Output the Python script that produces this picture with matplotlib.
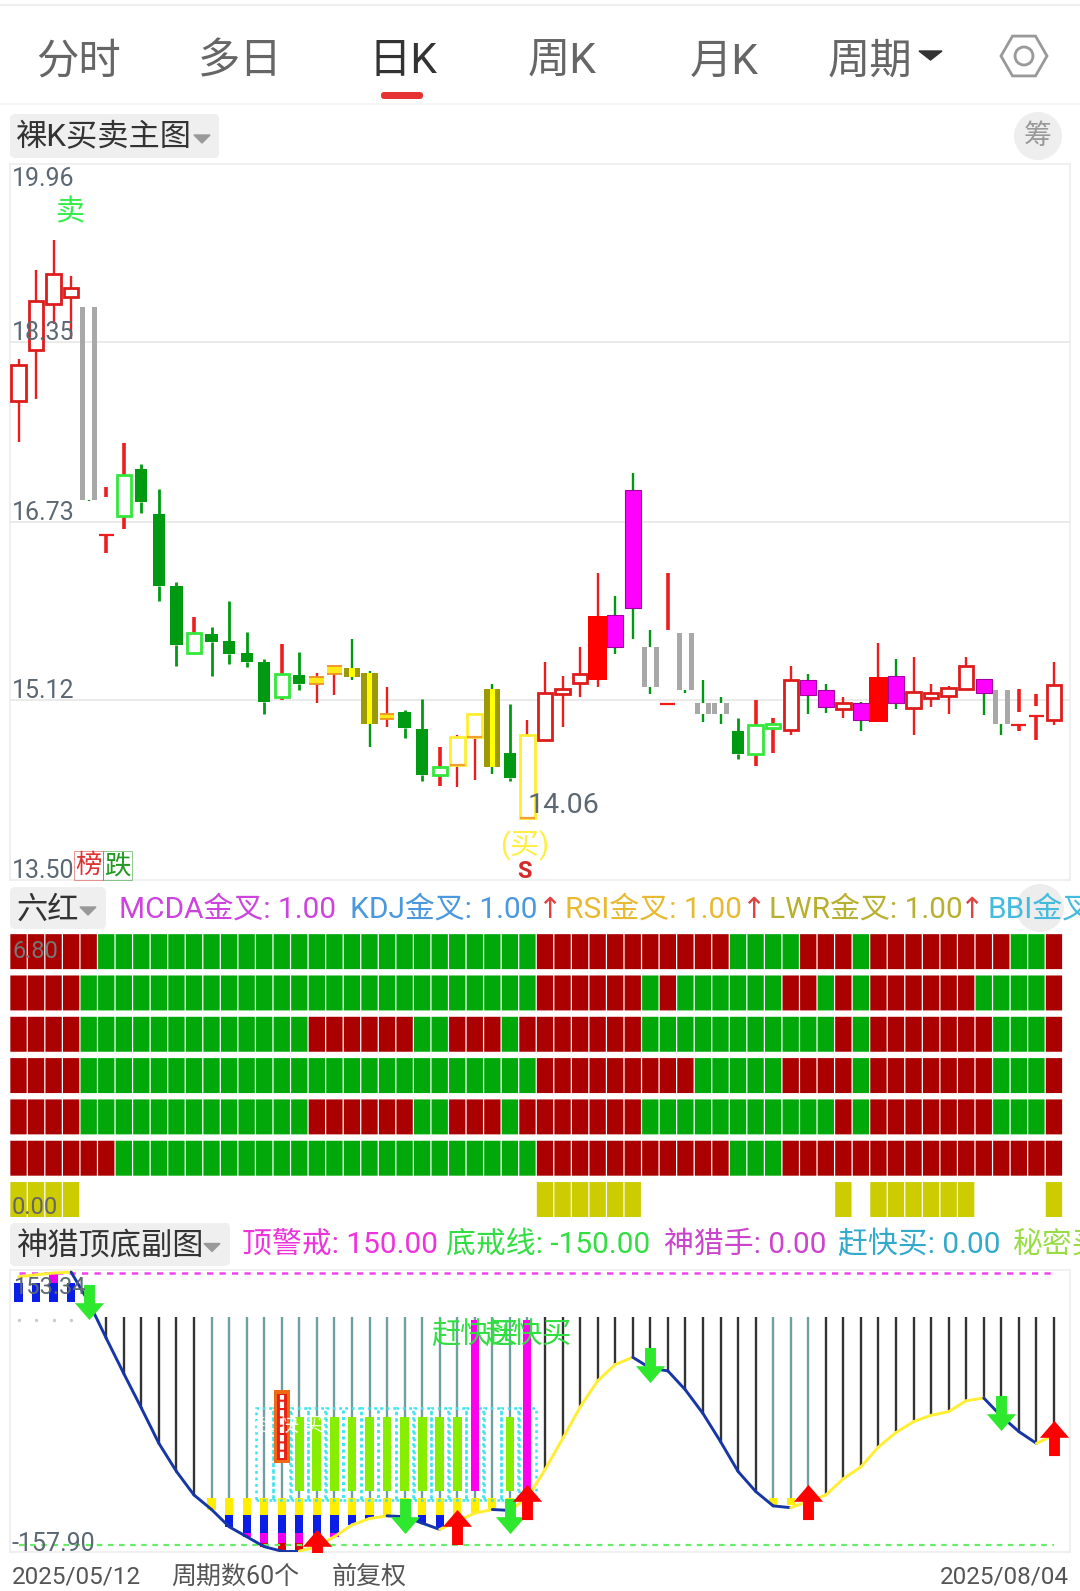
import numpy as np
import matplotlib
matplotlib.use("Agg")
import matplotlib.pyplot as plt
from matplotlib.patches import Rectangle, FancyBboxPatch, Circle, RegularPolygon, Polygon
from matplotlib.path import Path

plt.rcParams['font.family'] = ['Roboto', 'Noto Sans CJK SC', 'DejaVu Sans']

W, H = 1080, 1591
DPI = 100

# ---------- data ----------
high = [18.20,19.00,19.27,18.95,18.67,17.05,17.44,17.25,17.03,16.19,15.87,15.78,16.02,15.74,15.49,15.63,15.56,15.37,15.43,15.67,
        15.39,15.24,15.03,15.13,14.70,14.81,15.00,15.27,15.09,14.94,15.47,15.34,15.60,16.27,16.06,17.17,15.76,16.27,15.73,15.30,
        15.15,14.96,15.12,14.96,15.43,15.36,15.27,15.15,15.11,15.64,15.49,15.51,15.27,15.25,15.51,15.31,15.21,15.22,15.18,15.47]
top = [18.15,18.72,18.97,18.84,18.67,16.96,17.15,17.21,16.80,16.15,15.73,15.72,15.66,15.55,15.47,15.36,15.35,15.33,15.43,15.41,
       15.37,15.00,15.02,14.86,14.52,14.79,15.00,15.22,14.65,14.81,15.19,15.22,15.36,15.88,15.89,17.02,15.60,15.76,15.73,15.10,
       15.10,14.84,14.90,14.91,15.30,15.30,15.21,15.10,15.10,15.33,15.34,15.20,15.19,15.23,15.43,15.31,15.21,15.02,15.07,15.26]
bot = [17.82,18.28,18.70,18.76,16.93,16.61,16.78,16.91,16.15,15.62,15.55,15.65,15.54,15.47,15.11,15.15,15.27,15.27,15.36,15.33,
       14.91,14.95,14.87,14.45,14.45,14.54,14.79,14.52,14.42,14.06,14.76,15.18,15.28,15.30,15.60,15.95,15.24,15.09,15.21,15.00,
       15.00,14.64,14.64,14.87,14.85,15.17,15.06,15.04,14.94,14.93,15.10,15.05,15.14,15.16,15.22,15.19,14.91,14.90,14.98,14.94]
low = [17.45,17.84,18.52,18.38,16.92,16.45,16.67,16.81,16.02,15.43,15.54,15.34,15.45,15.42,15.00,15.12,15.21,15.10,15.17,15.30,
       14.70,14.88,14.78,14.39,14.35,14.34,14.40,14.46,14.39,14.06,14.76,14.88,15.15,15.24,15.54,15.67,15.18,15.09,15.19,14.93,
       14.91,14.59,14.53,14.65,14.81,15.00,15.01,14.96,14.84,14.93,15.04,14.81,15.06,15.00,15.22,14.99,14.81,14.84,14.76,14.90]
kinds = "rrrrsxhggghgggghgYYooYgghyyogyrrrRmmsxsssghhrmmrmRmrrrrmsxxr"
price_ticks = [19.96, 18.35, 16.73, 15.12, 13.50]

heat_rows = [  # top row first; 1 = red, 0 = green
    "11111" "0000000000000000000000000" "11111111111" "0000" "111" "0" "11111111" "00" "1",
    "1111" "00000000000000000000000000" "111111" "0" "1" "000000" "11" "0" "1" "0" "111111" "0000" "1",
    "1111" "0000000000000" "111111" "00" "111" "0" "1111111" "00000000000" "1" "0" "1111111" "000" "1",
    "1111" "00000000000000000000000000" "111111111" "00000" "1111" "0" "1111111" "000" "1",
    "1111" "0000000000000" "111111" "00" "111" "0" "1111111" "00000000000" "1" "0" "1111111" "000" "1",
    "111111" "000000000000000000000000" "11111111111" "000" "1111111111111111",
]
heat_flag = "1111" "00000000000000000000000000" "111111" "00000000000" "1" "0" "111111" "0000" "1"

curve = [146,148,150,151,118,78,39,1,-38,-69,-95,-111,-130,-141,-152,-157,-157,-152,-141,-128,
         -121,-118,-119,-126,-133,-124,-115,-111,-112,-98,-67,-33,2,31,49,57,45,42,21,-5,
         -36,-69,-91,-107,-109,-102,-95,-77,-64,-42,-26,-14,-7,-3,9,12,-8,-25,-38,-29]
teal_idx = list(range(11, 30)) + [43, 44, 45]
black_idx = list(range(5, 11)) + [i for i in range(30, 60) if i not in (43, 44, 45)]
stem_top = 101
teal_floor = -98.5
bands = [(-98.5, -117, '#ffee00'), (-117, -137, '#0a1ee6'), (-137, -148, '#ee00ee'), (-148, -157.9, '#dd0000')]
box_idx = list(range(14, 30))
lime_idx = [16, 17, 18, 19, 20, 21, 22, 23, 24, 25, 28]
lime_range = (-91, -8.5)
magenta_idx = [26, 29]
magenta_range = (-91, 98)
box_range = (-100, 1)
orange_i, orange_range = 15, (-60, 21)
down_i, down_v = [4, 22, 28, 36, 56], [118, -118, -118, 48, -4]
up_i, up_v = [17, 25, 29, 45, 59], [-152.5, -130, -103, -103, -32]
assert all(len(a) == 60 for a in (high, top, bot, low, kinds, curve, heat_flag, *heat_rows))

fig = plt.figure(figsize=(W / DPI, H / DPI), dpi=DPI, facecolor='white')

X0, X1 = 10.3, 1069.5
XL = ((X0 - 18.5) / 17.55, (X1 - 18.5) / 17.55)
def panel(y0, y1, x0=X0, x1=X1):
    a = fig.add_axes([x0 / W, 1 - y1 / H, (x1 - x0) / W, (y1 - y0) / H])
    a.set_xlim(*XL)
    a.set_xticks([]); a.set_yticks([])
    for s in a.spines.values():
        s.set_color('#eeeeee'); s.set_linewidth(1.2)
    return a

idx = np.arange(60)
TICK = '#5c6873'

# ---------- main K-line ----------
ax = panel(164, 880)
ax.set_ylim(13.50, 19.96)
for p in price_ticks[1:-1]:
    ax.axhline(p, color='#e8e8e8', lw=1.3, zorder=1)

RED, GRN = '#ee1c1c', '#009a12'
for i, k in enumerate(kinds):
    h, t, b, l = high[i], top[i], bot[i], low[i]
    wc = RED if k in 'rRhyYx' else GRN
    wl = 2.6 if k in 'hx' else (2.0 if k in 'g' else 1.7)
    ax.vlines([i, i], [t, l], [h, b], color=wc, lw=wl, zorder=2)
    if k == 'r':
        ax.bar(i, t - b, bottom=b, width=0.82, facecolor='white', edgecolor='#dd1c1c', lw=2.0, zorder=3)
    elif k == 'R':
        ax.bar(i, t - b, bottom=b, width=1.12, color='#ff0000', zorder=3)
    elif k == 'g':
        ax.bar(i, t - b, bottom=b, width=0.70, color='#009a12', zorder=3)
    elif k == 'h':
        ax.bar(i, t - b, bottom=b, width=0.82, facecolor='white', edgecolor='#33e83a', lw=2.0, zorder=3)
    elif k == 'y':
        ax.bar(i, t - b, bottom=b, width=0.84, facecolor='white', edgecolor='#ffee30', lw=2.0, zorder=3)
        ax.hlines(b, i - 0.42, i + 0.42, color='#f4a030', lw=1.6, zorder=4)
    elif k == 'Y':
        ax.bar(i, t - b, bottom=b, width=0.84, color='#ffe81a', zorder=3)
        ax.hlines([t, b], i - 0.42, i + 0.42, color='#f09020', lw=1.3, zorder=4)
    elif k == 'o':
        ax.bar(i, t - b, bottom=b, width=0.92, color='#9c9a08', zorder=3)
        ax.bar(i, t - b, bottom=b, width=0.32, color='#ffff00', zorder=4)
    elif k == 'm':
        ax.bar(i, t - b, bottom=b, width=0.90, facecolor='#ff00ff', edgecolor='#a000a0', lw=0.8, zorder=3)
    elif k == 's':
        ax.bar([i - 0.33, i + 0.33], t - b, bottom=b, width=0.28, color='#a8a8a8', zorder=3)
    elif k == 'x':
        ax.hlines(b, i - 0.42, i + 0.42, color=RED, lw=1.6, zorder=3)

ax.annotate(f'{price_ticks[0]:.2f}', (0, price_ticks[0]), xytext=(1.5, -2.5), xycoords=('axes fraction', 'data'),
            textcoords='offset points', va='top', ha='left', fontsize=18, color=TICK, zorder=6)
for p in price_ticks[1:]:
    ax.annotate(f'{p:.2f}', (0, p), xytext=(1.5, -2), xycoords=('axes fraction', 'data'), textcoords='offset points',
                va='bottom', ha='left', fontsize=18, color=TICK, zorder=6)
ax.annotate('14.06', (29, min(low)), xytext=(0, -1), textcoords='offset points', va='bottom', ha='left',
            fontsize=20.5, color=TICK, zorder=6)

# ---------- six-red heat rows ----------
ah = panel(934, 1217)
ah.set_ylim(0, 6.85)
for s in ah.spines.values():
    s.set_visible(False)
ROW_H = 0.846
for r, row in enumerate(heat_rows):
    vals = np.array([int(c) for c in row])
    ah.bar(idx, ROW_H, bottom=6 - r, width=0.93, snap=False,
           color=np.where(vals == 1, '#aa0000', '#00a80a'), zorder=2)
flag = np.array([int(c) for c in heat_flag])
ah.bar(idx[flag == 1], ROW_H, bottom=0, width=0.93, snap=False, color='#cccc00', zorder=2)

# ---------- hunter sub-chart ----------
ab = panel(1270, 1552)
ab.set_ylim(-157.9, 153.34)
cv = np.array(curve, float)
ab.vlines(black_idx, cv[black_idx], stem_top, color='#333333', lw=1.7, zorder=1)
ab.vlines(teal_idx, teal_floor, stem_top, color='#6f9f9f', lw=1.7, zorder=1)
ab.scatter(range(0, 4), [98] * 4, s=2, color='#cccccc', zorder=1)

for i in list(range(11, 30)) + [43, 44]:
    for hi, lo, c in bands:
        floor = max(lo, cv[i])
        if floor < hi:
            hh = hi - floor
            if i >= 43:
                hh = min(hh, 7)
                floor = hi - hh
            ab.bar(i, hh, bottom=floor, width=0.47, color=c, zorder=2)
for i in range(0, 4):
    ab.bar(i, 139 - 118, bottom=118, width=0.47, color='#0a1ee6', zorder=2)
ab.bar(2, 150 - 139, bottom=139, width=0.47, color='#ee00ee', zorder=2)

for i in box_idx:
    ab.add_patch(Rectangle((i - 0.49, box_range[0]), 0.98, box_range[1] - box_range[0], fill=False,
                           edgecolor='#3ce4f0', lw=1.8, ls=(0, (1.1, 1.5)), zorder=3))
ab.bar(lime_idx, lime_range[1] - lime_range[0], bottom=lime_range[0], width=0.5, color='#88ee00', zorder=4)
ab.bar(magenta_idx, magenta_range[1] - magenta_range[0], bottom=magenta_range[0], width=0.46, color='#ff00ee', zorder=4)

ab.bar(orange_i, orange_range[1] - orange_range[0], bottom=orange_range[0], width=0.9, color='#ee6a14', zorder=5)
ab.bar(orange_i, orange_range[1] - orange_range[0] - 9, bottom=orange_range[0] + 4, width=0.58, color='#e81e10', zorder=6)
ab.vlines(orange_i, orange_range[0] + 6, orange_range[1] - 6, color='white', lw=3.0, ls=(0, (1.5, 0.5)), zorder=7)
ab.text(15.4, -18, '赶 快 买', ha='center', va='center', fontsize=14, color='white', zorder=8, alpha=0.85)

for a, b_, va, vb in zip(idx[:-1], idx[1:], cv[:-1], cv[1:]):
    ab.plot([a, b_], [va, vb], color='#ffee33' if vb > va else '#1636a8', lw=2.1, solid_capstyle='round', zorder=6)

ab.plot(idx, [150] * 60, color='#ee44ee', lw=1.8, ls=(0, (2.5, 2.5)), zorder=5, clip_on=False)
ab.plot(idx, [-150] * 60, color='#66ee66', lw=1.6, ls=(0, (2.5, 2.5)), zorder=5)

for c in (26, 29):
    ab.text(c, 82, '赶快买', ha='center', va='center', fontsize=21, color='#33dd44', zorder=8)

arrow = Path([(0, -1), (0.83, -0.04), (0.31, -0.04), (0.31, 1), (-0.31, 1), (-0.31, -0.04), (-0.83, -0.04), (0, -1)], closed=True)
arrow_up = Path(arrow.vertices * np.array([1, -1]), closed=True)
ab.scatter(down_i, down_v, marker=arrow, s=640, color='#2ee82e', linewidths=0, zorder=9)
ab.scatter(up_i, up_v, marker=arrow_up, s=640, color='#ff0000', linewidths=0, zorder=9)

# ---------- chrome & text ----------
ov = fig.add_axes([0, 0, 1, 1], facecolor='none', zorder=20)
ov.set_xlim(0, W); ov.set_ylim(H, 0); ov.axis('off')

ov.hlines(5, 0, W, color='#eeeeee', lw=1.5)
ov.hlines(104, 0, W, color='#f3f3f3', lw=1.2)
for x, t, c in [(79, '分时', '#666666'), (240, '多日', '#666666'), (403, '日K', '#333333'),
                (562, '周K', '#666666'), (724, '月K', '#666666'), (870, '周期', '#666666')]:
    ov.text(x, 62, t, ha='center', va='center', fontsize=30.5, color=c)
ov.add_patch(Polygon([(919, 51), (942, 51), (930.5, 60)], color='#333333'))
ov.add_patch(FancyBboxPatch((381, 92), 42, 7, boxstyle='round,pad=0,rounding_size=3', color='#e53232', lw=0))
ov.add_patch(RegularPolygon((1024, 56), 6, radius=23, orientation=np.pi / 6, fill=False, edgecolor='#999999', lw=2))
ov.add_patch(Circle((1024, 56), 9, fill=False, edgecolor='#999999', lw=2))

def tag(x0, y0, x1, y1, text, tx, fs, tri):
    ov.add_patch(FancyBboxPatch((x0, y0), x1 - x0, y1 - y0, boxstyle='round,pad=0,rounding_size=5',
                                color='#efefef', lw=0))
    ov.text(tx, (y0 + y1) / 2 + 2, text, ha='left', va='center', fontsize=fs, color='#333333')
    ov.add_patch(Polygon([(tri, (y0 + y1) / 2 - 1), (tri + 16, (y0 + y1) / 2 - 1), (tri + 8, (y0 + y1) / 2 + 7)], color='#999999'))

tag(10, 114, 219, 158, '裸K买卖主图', 16, 22.5, 194)
tag(10, 887, 106, 929, '六红', 17, 22.5, 80)
tag(10, 1223, 230, 1266, '神猎顶底副图', 17, 22.5, 204)

ov.add_patch(Circle((1038, 136), 24, color='#eeeeee', lw=0))
ov.text(1038, 137, '筹', ha='center', va='center', fontsize=20, color='#999999')

ov.text(70, 212, '卖', ha='center', va='center', fontsize=21, color='#33ee4a')
ov.text(525, 846, '(买)', ha='center', va='center', fontsize=21, color='#ffee44')
ov.text(525, 871, 'S', ha='center', va='center', fontsize=17, color='#d42a2a', fontweight='bold')

for x0, t, c in [(74, '榜', '#dd3333'), (103, '跌', '#229922')]:
    ov.add_patch(Rectangle((x0, 851), 29, 29, fill=False, edgecolor=c, lw=0.6, alpha=0.6))
    ov.text(x0 + 14.5, 866, t, ha='center', va='center', fontsize=19, color=c)

for x, t, c in [(119, 'MCDA金叉: 1.00', '#cc44dd'), (350, 'KDJ金叉: 1.00', '#4a98de'), (565, 'RSI金叉: 1.00', '#e8ba32'),
                (769, 'LWR金叉: 1.00', '#b8b030'), (987, 'BBI金叉', '#44bbdd')]:
    ov.text(x, 910, t, ha='left', va='center', fontsize=21.5, color=c, clip_on=True)
for x in (549, 753, 971):
    ov.text(x, 910, '↑', ha='center', va='center', fontsize=21, color='#dd4444', family='DejaVu Sans')
ov.add_patch(Circle((1040, 908), 24, color='#dddddd', alpha=0.5, lw=0))
ov.text(12, 951, '6.80', ha='left', va='center', fontsize=17, color='#777777')
ov.text(12, 1208, '0.00', ha='left', va='center', fontsize=17, color='#666666')

for x, t, c in [(242, '顶警戒: 150.00', '#ee33dd'), (446, '底戒线: -150.00', '#33dd44'), (664, '神猎手: 0.00', '#cc44cc'),
                (838, '赶快买: 0.00', '#33aacc'), (1012, '秘密买', '#99dd44')]:
    ov.text(x, 1245, t, ha='left', va='center', fontsize=21.5, color=c)
ov.text(13, 1288, '153.34', ha='left', va='center', fontsize=17, color=TICK)
ov.text(12, 1544, '-157.90', ha='left', va='center', fontsize=18, color=TICK)

for x, t, ha, fs in [(12, '2025/05/12', 'left', 17.5), (171, '周期数60个', 'left', 18), (332, '前复权', 'left', 18), (1069, '2025/08/04', 'right', 17.5)]:
    ov.text(x, 1577, t, ha=ha, va='center', fontsize=fs, color='#555555')

fig.savefig('out.png', dpi=DPI, facecolor='white')
